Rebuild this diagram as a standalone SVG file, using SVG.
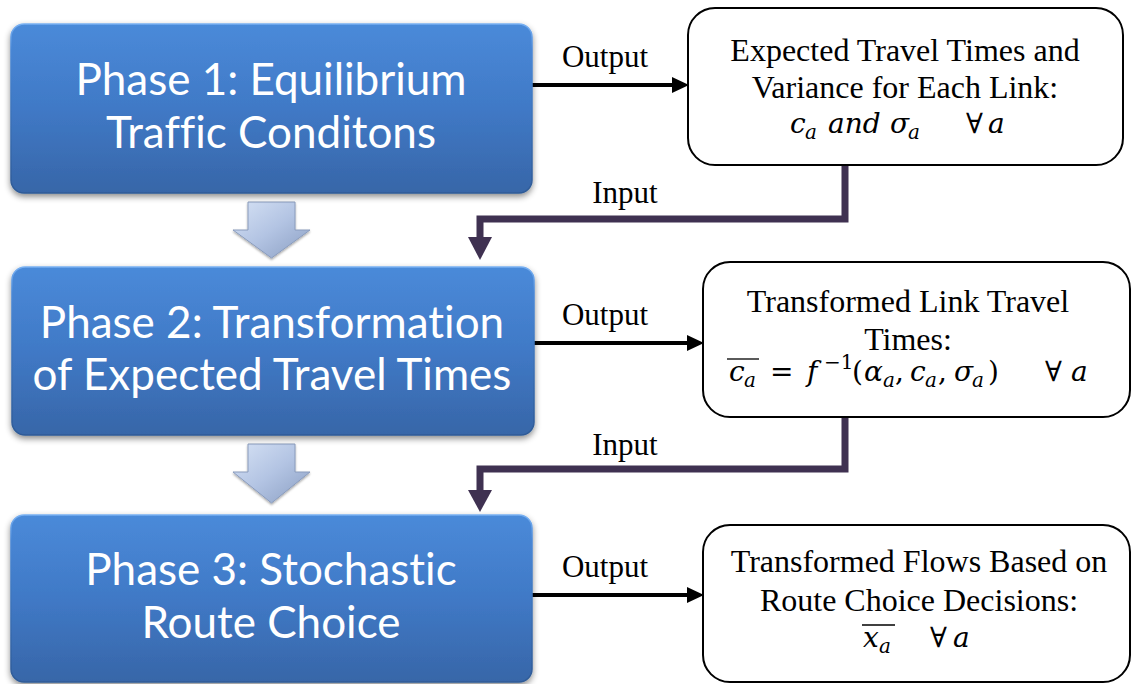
<svg xmlns="http://www.w3.org/2000/svg" width="1132" height="684" viewBox="0 0 1132 684">
<defs>
<linearGradient id="gBlue" x1="0" y1="0" x2="0" y2="1">
<stop offset="0" stop-color="#4a8ad9"/>
<stop offset="0.5" stop-color="#4079c6"/>
<stop offset="1" stop-color="#3766a8"/>
</linearGradient>
<linearGradient id="gBlueStroke" x1="0" y1="0" x2="0" y2="1">
<stop offset="0" stop-color="#78b0f2"/>
<stop offset="0.15" stop-color="#4a88d6"/>
<stop offset="1" stop-color="#2e5a96"/>
</linearGradient>
<linearGradient id="gChev" x1="0" y1="0" x2="1" y2="1">
<stop offset="0" stop-color="#d6e2f5"/>
<stop offset="0.5" stop-color="#b3c4e3"/>
<stop offset="1" stop-color="#8a9ec2"/>
</linearGradient>
<filter id="shadow" x="-5%" y="-10%" width="110%" height="125%">
<feDropShadow dx="0" dy="3" stdDeviation="3" flood-color="#000" flood-opacity="0.45"/>
</filter>
<filter id="chshadow" x="-20%" y="-20%" width="140%" height="140%">
<feDropShadow dx="0" dy="1.5" stdDeviation="1.2" flood-color="#000" flood-opacity="0.35"/>
</filter>
</defs>
<style>
.phase{fill:url(#gBlue);stroke:url(#gBlueStroke);stroke-width:1.5;filter:url(#shadow)}
.ptxt{font-family:Lato,"Open Sans",sans-serif;font-size:44px;fill:#fff;text-anchor:middle;font-variant-ligatures:none;font-feature-settings:"liga" 0,"dlig" 0}
.res{fill:#fff;stroke:#000;stroke-width:2}
.rtxt{font-family:"Liberation Serif","Times New Roman",serif;font-size:32px;fill:#000;text-anchor:middle}
.math{font-family:"DejaVu Serif",serif;font-style:italic;font-size:28px;fill:#000}
.sub{font-size:20px}
.up{font-style:normal}
.lbl{font-family:"Liberation Serif","Times New Roman",serif;font-size:31px;fill:#000;text-anchor:middle}
.out{stroke:#000;stroke-width:4;fill:none}
.inp{stroke:#3f3151;stroke-width:7;fill:none}
.chev{fill:url(#gChev);stroke:#8a9cbd;stroke-width:1;filter:url(#chshadow)}
.ovl{stroke:#000;stroke-width:1.3}
</style>
<rect width="1132" height="684" fill="#fff"/>

<g id="connectors">
<path class="out" d="M527 85 H674"/>
<polygon points="672,77 689,85 672,93" fill="#000"/>
<path class="out" d="M527 343 H689"/>
<polygon points="687,335 704,343 687,351" fill="#000"/>
<path class="out" d="M527 595 H689"/>
<polygon points="687,587 704,595 687,603" fill="#000"/>
<path class="inp" d="M845 165 V219 H480 V238"/>
<polygon points="468,237 492,237 480,260" fill="#3f3151"/>
<path class="inp" d="M845 417 V469 H480 V491"/>
<polygon points="468,490 492,490 480,512" fill="#3f3151"/>
<polygon class="chev" points="248,202 295,202 295,230 310,230 271.5,258 233,230 248,230"/>
<polygon class="chev" points="248,444 295,444 295,472 310,472 271.5,503 233,472 248,472"/>
<text class="lbl" x="605" y="67">Output</text>
<text class="lbl" x="605" y="325">Output</text>
<text class="lbl" x="605" y="577">Output</text>
<text class="lbl" x="625" y="203">Input</text>
<text class="lbl" x="625" y="455">Input</text>
</g>

<g id="phase1">
<rect class="phase" x="11" y="24" width="521" height="169" rx="13"/>
<text class="ptxt" x="271" y="95">Phase 1: Equilibrium</text>
<text class="ptxt" x="271" y="148">Traffic Conditons</text>
</g>

<g id="phase2">
<rect class="phase" x="12" y="267" width="522" height="168" rx="13"/>
<text class="ptxt" x="272" y="338">Phase 2: Transformation</text>
<text class="ptxt" x="272" y="390">of Expected Travel Times</text>
</g>

<g id="phase3">
<rect class="phase" x="11" y="515" width="521" height="167" rx="13"/>
<text class="ptxt" x="271" y="585">Phase 3: Stochastic</text>
<text class="ptxt" x="271" y="638">Route Choice</text>
</g>

<g id="result1">
<rect class="res" x="688" y="8" width="435" height="157" rx="27"/>
<text class="rtxt" x="905" y="61">Expected Travel Times and</text>
<text class="rtxt" x="905" y="98">Variance for Each Link:</text>
<text class="math" y="133"><tspan x="790">c</tspan><tspan class="sub" x="805" dy="6">a</tspan><tspan x="828" dy="-6">and</tspan><tspan x="890">σ</tspan><tspan class="sub" x="908" dy="6">a</tspan><tspan class="up" x="966" dy="-6">∀</tspan><tspan x="988">a</tspan></text>
</g>

<g id="result2">
<rect class="res" x="703" y="262" width="427" height="155" rx="27"/>
<text class="rtxt" x="908" y="312">Transformed Link Travel</text>
<text class="rtxt" x="908" y="350">Times:</text>
<text class="math" y="381"><tspan x="729">c</tspan><tspan class="sub" x="744" dy="6">a</tspan><tspan class="up" x="770" dy="-6">=</tspan><tspan x="807">f</tspan><tspan class="sub up" x="824" dy="-12">−1</tspan><tspan class="up" x="852" dy="12">(</tspan><tspan x="864">α</tspan><tspan class="sub" x="883" dy="6">a</tspan><tspan class="up" x="895" dy="-6">,</tspan><tspan x="910">c</tspan><tspan class="sub" x="925" dy="6">a</tspan><tspan class="up" x="938" dy="-6">,</tspan><tspan x="954">σ</tspan><tspan class="sub" x="972" dy="6">a</tspan><tspan class="up" x="988" dy="-6">)</tspan><tspan class="up" x="1045">∀</tspan><tspan x="1071">a</tspan></text>
<line class="ovl" x1="727" y1="359" x2="759" y2="359"/>
</g>

<g id="result3">
<rect class="res" x="703" y="525" width="427" height="157" rx="27"/>
<text class="rtxt" x="919" y="572">Transformed Flows Based on</text>
<text class="rtxt" x="919" y="611">Route Choice Decisions:</text>
<text class="math" y="647"><tspan x="863">x</tspan><tspan class="sub" x="879" dy="6">a</tspan><tspan class="up" x="930" dy="-6">∀</tspan><tspan x="953">a</tspan></text>
<line class="ovl" x1="862" y1="625" x2="895" y2="625"/>
</g>
</svg>
